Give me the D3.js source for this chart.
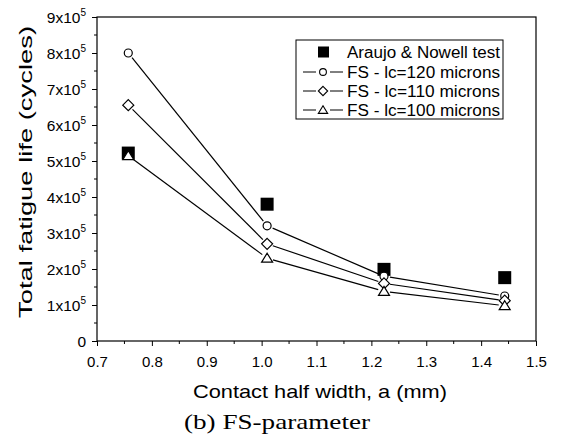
<!DOCTYPE html>
<html><head><meta charset="utf-8">
<script src="https://cdn.jsdelivr.net/npm/d3@7"></script>
<style>body{margin:0;background:#fff}svg{display:block}</style>
</head><body>
<svg id="c" width="564" height="438"></svg>
<script>
const xValues = [0.757, 1.01, 1.223, 1.443];
const testValues = [5.22e5, 3.8e5, 1.99e5, 1.76e5];
const lc120 = [8.0e5, 3.2e5, 1.8e5, 1.25e5];
const lc110 = [6.55e5, 2.7e5, 1.6e5, 1.12e5];
const lc100 = [5.15e5, 2.3e5, 1.38e5, 0.98e5];
const xTicks = [0.7, 0.8, 0.9, 1.0, 1.1, 1.2, 1.3, 1.4, 1.5];
const yTicks = [0, 1e5, 2e5, 3e5, 4e5, 5e5, 6e5, 7e5, 8e5, 9e5];
const legendLabels = ["Araujo & Nowell test", "FS - lc=120 microns", "FS - lc=110 microns", "FS - lc=100 microns"];

const svg = d3.select("#c");
const L = 97, R = 536, T = 17, B = 341;
const x = d3.scaleLinear().domain([0.7, 1.5]).range([L, R]);
const y = d3.scaleLinear().domain([0, 9e5]).range([B, T]);
const font = "Arial, 'Liberation Sans', sans-serif";

// frame
svg.append("rect").attr("x", L).attr("y", T).attr("width", R - L).attr("height", B - T)
  .attr("fill", "none").attr("stroke", "#000").attr("stroke-width", 1.2);

// x axis
const xAxis = d3.axisBottom(x).tickValues(xTicks).tickSize(5).tickFormat(d3.format(".1f"));
const gx = svg.append("g").attr("transform", `translate(0,${B})`).call(xAxis);
gx.select(".domain").remove();
gx.selectAll("text").attr("font-family", font).attr("font-size", 15).attr("y", 12).attr("dy", "0.95em").attr("fill", "#000");
const xMinor = d3.range(0.75, 1.5, 0.1);
svg.append("g").selectAll("line").data(xMinor).join("line")
  .attr("x1", d => x(d)).attr("x2", d => x(d)).attr("y1", B).attr("y2", B + 3).attr("stroke", "#000");

// y axis
const yAxis = d3.axisLeft(y).tickValues(yTicks).tickSize(5).tickFormat("");
const gy = svg.append("g").attr("transform", `translate(${L},0)`).call(yAxis);
gy.select(".domain").remove();
const yMinor = d3.range(0.5e5, 9e5, 1e5);
svg.append("g").selectAll("line").data(yMinor).join("line")
  .attr("x1", L - 3).attr("x2", L).attr("y1", d => y(d)).attr("y2", d => y(d)).attr("stroke", "#000");
const yl = svg.append("g").selectAll("text").data(yTicks).join("text")
  .attr("x", L - 11).attr("y", d => y(d) + 5.5).attr("text-anchor", "end")
  .attr("font-family", font).attr("font-size", 15.5);
yl.each(function(d) {
  const t = d3.select(this);
  if (d === 0) { t.text("0"); return; }
  t.append("tspan").text((d / 1e5) + "x10");
  t.append("tspan").attr("font-size", 10).attr("dy", -7).text("5");
});

// axis titles
svg.append("text").attr("transform", "translate(32,172) rotate(-90)").attr("text-anchor", "middle")
  .attr("font-family", font).attr("font-size", 19).attr("textLength", 292).attr("lengthAdjust", "spacingAndGlyphs")
  .text("Total fatigue life (cycles)");
svg.append("text").attr("x", 320).attr("y", 398).attr("text-anchor", "middle")
  .attr("font-family", font).attr("font-size", 18.5).attr("textLength", 254).attr("lengthAdjust", "spacingAndGlyphs")
  .text("Contact half width, a (mm)");
svg.append("text").attr("x", 277).attr("y", 429).attr("text-anchor", "middle")
  .attr("font-family", "'Times New Roman', 'Liberation Serif', serif").attr("font-size", 21)
  .attr("textLength", 186).attr("lengthAdjust", "spacingAndGlyphs").text("(b) FS-parameter");

// markers
const sym = {
  circle: (g, cx, cy, s) => g.append("circle").attr("cx", cx).attr("cy", cy).attr("r", 4 * s),
  diamond: (g, cx, cy, s) => g.append("path").attr("d", `M${cx},${cy - 5.5 * s}L${cx + 5.5 * s},${cy}L${cx},${cy + 5.5 * s}L${cx - 5.5 * s},${cy}Z`),
  triangle: (g, cx, cy, s) => g.append("path").attr("d", `M${cx},${cy - 5 * s}L${cx + 5.5 * s},${cy + 4 * s}L${cx - 5.5 * s},${cy + 4 * s}Z`)
};

// test squares
svg.append("g").selectAll("rect").data(xValues.map((v, i) => [v, testValues[i]])).join("rect")
  .attr("x", d => x(d[0]) - 6.5).attr("y", d => y(d[1]) - 6.5).attr("width", 13).attr("height", 13).attr("fill", "#000");

const series = [[lc120, "circle"], [lc110, "diamond"], [lc100, "triangle"]];
const gap = 6;
series.forEach(([vals, shape]) => {
  const pts = xValues.map((v, i) => [x(v), y(vals[i])]);
  const g = svg.append("g");
  for (let i = 0; i < pts.length - 1; i++) {
    const [x1, y1] = pts[i], [x2, y2] = pts[i + 1];
    const len = Math.hypot(x2 - x1, y2 - y1), ux = (x2 - x1) / len, uy = (y2 - y1) / len;
    g.append("line").attr("x1", x1 + ux * gap).attr("y1", y1 + uy * gap)
      .attr("x2", x2 - ux * gap).attr("y2", y2 - uy * gap).attr("stroke", "#000").attr("stroke-width", 1.2);
  }
  pts.forEach(([px, py]) => sym[shape](g, px, py, 1).attr("fill", "#fff").attr("stroke", "#000").attr("stroke-width", 1.2));
});

// legend
const lg = svg.append("g");
lg.append("rect").attr("x", 296).attr("y", 40).attr("width", 207).attr("height", 79)
  .attr("fill", "#fff").attr("stroke", "#000").attr("stroke-width", 1);
const rowsY = [52, 72, 91, 110];
legendLabels.forEach((lab, i) => {
  const ry = rowsY[i];
  if (i === 0) {
    lg.append("rect").attr("x", 318).attr("y", ry - 5.5).attr("width", 11).attr("height", 11).attr("fill", "#000");
  } else {
    lg.append("line").attr("x1", 303).attr("x2", 316).attr("y1", ry).attr("y2", ry).attr("stroke", "#000");
    lg.append("line").attr("x1", 330).attr("x2", 343).attr("y1", ry).attr("y2", ry).attr("stroke", "#000");
    sym[series[i - 1][1]](lg, 323, ry, 0.85).attr("fill", "#fff").attr("stroke", "#000").attr("stroke-width", 1.1);
  }
  lg.append("text").attr("x", 347).attr("y", ry + 5.5).attr("font-family", font).attr("font-size", 16)
    .attr("textLength", 153).attr("lengthAdjust", "spacingAndGlyphs").text(lab);
});
</script>
</body></html>
